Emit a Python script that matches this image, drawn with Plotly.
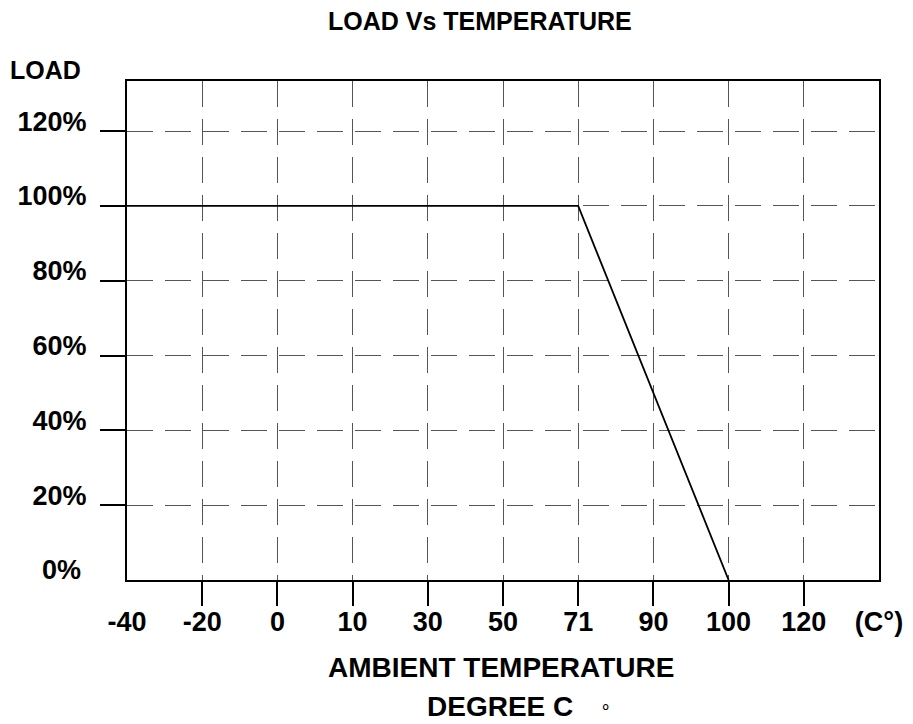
import plotly.graph_objects as go

# Data
temp_labels = ["-40", "-20", "0", "10", "30", "50", "71", "90", "100", "120", "(C°)"]
load_values = [0, 20, 40, 60, 80, 100, 120]
load_labels = ["0%", "20%", "40%", "60%", "80%", "100%", "120%"]
curve_temps = ["-40", "71", "100"]
curve_loads = [100, 100, 0]

FONT = "Liberation Sans, Arial, sans-serif"
curve_x = [temp_labels.index(t) for t in curve_temps]
idx = list(range(len(temp_labels)))
inner_x = idx[1:-1]
YMAX = 133.4

fig = go.Figure()
fig.add_trace(go.Scatter(x=curve_x, y=curve_loads, mode="lines",
                         line=dict(color="black", width=1.8), showlegend=False,
                         hoverinfo="skip"))
# invisible trace to activate overlay axes
fig.add_trace(go.Scatter(x=[0], y=[0], xaxis="x2", yaxis="y2", mode="markers",
                         marker=dict(opacity=0), showlegend=False, hoverinfo="skip"))

tickfont = dict(family=FONT, size=27, color="black", weight="bold")
grid = dict(showgrid=True, gridcolor="#555555", gridwidth=1, griddash="26px,12px")

fig.update_layout(
    width=913, height=724,
    margin=dict(l=119, r=42, t=73, b=152),
    plot_bgcolor="white", paper_bgcolor="white",
    # x labels (all categories), no tick marks
    xaxis=dict(range=[0, 10], tickmode="array", tickvals=idx, ticktext=temp_labels,
               ticks="", tickfont=tickfont, ticklabelstandoff=17, automargin=False,
               showline=True, linecolor="black", linewidth=2, mirror=True,
               zeroline=False, showgrid=False),
    # x tick marks + grid at inner positions
    xaxis2=dict(range=[0, 10], overlaying="x", anchor="y", side="bottom",
                tickmode="array", tickvals=inner_x, showticklabels=False,
                ticks="outside", ticklen=25, tickwidth=2, tickcolor="black",
                automargin=False, showline=False, zeroline=False, **grid),
    yaxis=dict(range=[0, YMAX], tickmode="array", tickvals=load_values[1:],
               ticktext=load_labels[1:], ticks="outside", ticklen=25, tickwidth=2,
               tickcolor="black", tickfont=tickfont, ticklabelstandoff=8,
               ticklabelshift=-10, automargin=False,
               showline=True, linecolor="black", linewidth=2, mirror=True,
               zeroline=False, **grid),
    yaxis2=dict(range=[0, YMAX], overlaying="y", anchor="x", side="left",
                tickmode="array", tickvals=[load_values[0]], ticktext=[load_labels[0]],
                ticks="", tickfont=tickfont, ticklabelstandoff=45, ticklabelshift=-10,
                automargin=False, showline=False, showgrid=False, zeroline=False),
)

ann_font = dict(family=FONT, color="black", weight="bold")
fig.add_annotation(text="LOAD Vs TEMPERATURE", xref="paper", yref="paper",
                   x=0.47, y=1.12, xanchor="center", yanchor="middle",
                   showarrow=False, font=dict(size=25, **ann_font))
fig.add_annotation(text="LOAD", xref="paper", yref="paper",
                   x=-0.109, y=1.022, xanchor="center", yanchor="middle",
                   showarrow=False, font=dict(size=25, **ann_font))
fig.add_annotation(text="AMBIENT TEMPERATURE", xref="paper", yref="paper",
                   x=0.497, y=-0.176, xanchor="center", yanchor="middle",
                   showarrow=False, font=dict(size=28, **ann_font))
fig.add_annotation(text="DEGREE C", xref="paper", yref="paper",
                   x=0.496, y=-0.2545, xanchor="center", yanchor="middle",
                   showarrow=False, font=dict(size=28, **ann_font))
fig.add_annotation(text="∘", xref="paper", yref="paper",
                   x=0.636, y=-0.2525, xanchor="center", yanchor="middle",
                   showarrow=False, font=dict(family=FONT, size=18, color="black"))

fig.write_html("out.html")
